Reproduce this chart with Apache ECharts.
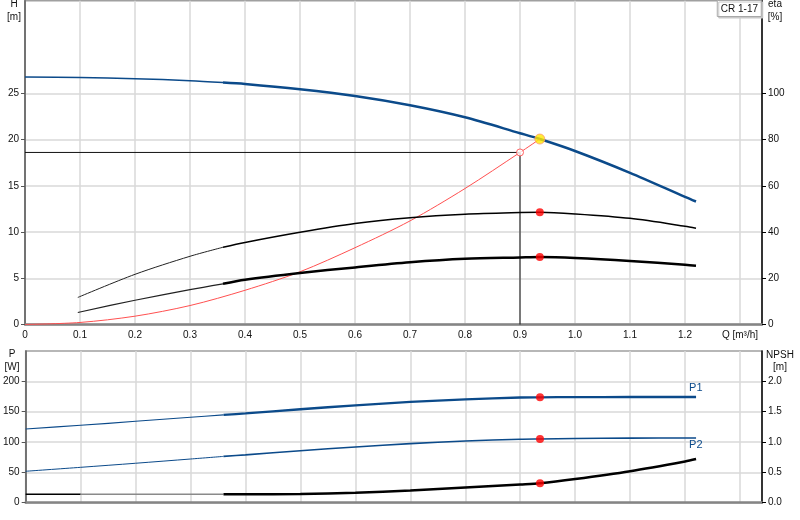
<!DOCTYPE html>
<html>
<head>
<meta charset="utf-8">
<script src="https://cdn.jsdelivr.net/npm/echarts@6/dist/echarts.min.js"></script>
<style>
  html, body { margin: 0; padding: 0; background: #fff; }
  #chart { width: 800px; height: 520px; }
</style>
</head>
<body>
<div id="chart"></div>
<script>
// pump curve, Q in m3/h
const qHead = [0, 0.1, 0.2, 0.3, 0.36, 0.4, 0.5, 0.6, 0.7, 0.8, 0.9, 0.936, 1.0, 1.1, 1.2, 1.22];
const head = [26.75, 26.69, 26.58, 26.36, 26.15, 26.0, 25.43, 24.7, 23.7, 22.4, 20.68, 20.05, 18.76, 16.4, 13.8, 13.3];

// system curve
const qSystem = [0, 0.1, 0.2, 0.3, 0.4, 0.5, 0.6, 0.7, 0.8, 0.9, 0.936];
const systemHead = [0, 0.22, 0.9, 2.05, 3.7, 5.7, 8.3, 11.2, 14.7, 18.6, 20.05];

// efficiencies [%]
const qEta = [0.096, 0.2, 0.3, 0.36, 0.4, 0.5, 0.6, 0.7, 0.8, 0.9, 0.936, 1.0, 1.1, 1.2, 1.22];
const etaPump = [11.7, 21.7, 29.5, 33.4, 35.5, 39.9, 43.7, 46.2, 47.7, 48.4, 48.5, 47.8, 45.9, 42.5, 41.6];
const etaTotal = [5.2, 10.5, 15.1, 17.6, 19.4, 22.3, 24.7, 26.9, 28.4, 29.0, 29.2, 28.8, 27.5, 25.8, 25.4];

// power [W]
const qPower = [0, 0.1, 0.2, 0.3, 0.36, 0.4, 0.5, 0.6, 0.7, 0.8, 0.9, 0.936, 1.0, 1.1, 1.22];
const powerP1 = [121.5, 127.6, 134.2, 140.8, 144.7, 147.2, 154, 160.5, 166, 170.4, 173.4, 173.7, 174, 174.2, 174.2];
const powerP2 = [51.8, 58.3, 65, 72, 76.3, 78.8, 85.7, 91.8, 97.3, 101.7, 104.5, 105, 105.8, 106.4, 106.6];

// NPSH [m]
const qNpsh = [0, 0.1, 0.36, 0.4, 0.5, 0.6, 0.7, 0.8, 0.9, 0.936, 1.0, 1.1, 1.2, 1.22];
const npsh = [0.14, 0.14, 0.14, 0.14, 0.145, 0.165, 0.2, 0.25, 0.3, 0.32, 0.39, 0.52, 0.68, 0.72];

// duty point and requested point
const dutyQ = 0.936;
const duty = { head: 20.05, etaPump: 48.5, etaTotal: 29.2, p1: 173.7, p2: 105, npsh: 0.32 };
const reqQ = 0.9;
const reqHead = 18.6;

const hLabels = [0, 5, 10, 15, 20, 25];
const etaLabels = [0, 20, 40, 60, 80, 100];
const pLabels = [0, 50, 100, 150, 200];
const npshLabels = [0, 0.5, 1, 1.5, 2];

const BLUE = '#0b4a8a';
const TXT = '#111';
const FS = 10;
const SPLIT = { lineStyle: { color: '#d8d8d8', width: 1.5 } };

const pairs = (xs, ys) => xs.map((x, i) => [x, ys[i]]);
const part = (xs, ys, lo, hi) => pairs(xs, ys).filter(p => p[0] >= lo - 1e-9 && p[0] <= hi + 1e-9);

function curve(data, color, width, xi, yi, extra) {
    return Object.assign({
        type: 'line', data: data, xAxisIndex: xi, yAxisIndex: yi,
        smooth: 0.3, symbol: 'none', silent: true, z: 3,
        lineStyle: { color: color, width: width }
    }, extra || {});
}
function dot(q, v, xi, yi, style, size) {
    return {
        type: 'scatter', data: [[q, v]], xAxisIndex: xi, yAxisIndex: yi,
        symbolSize: size, itemStyle: style, silent: true, z: 10
    };
}
// curve name written at the end of the line
const endName = (text, dy) => ({
    endLabel: { show: true, formatter: text, color: BLUE, fontSize: 11, distance: 0, offset: [-7, dy] }
});

const xLabel = v => {
    const r = Math.round(v * 10) / 10;
    if (Math.abs(v - r) > 1e-6) return '';
    if (Math.abs(r - 1.3) < 1e-6) return 'Q [m³/h]';
    return r === 0 ? '0' : r.toFixed(1);
};

function xAxis(gi, labels) {
    return {
        type: 'value', gridIndex: gi, min: 0, max: 1.34, interval: 0.1,
        axisLine: { lineStyle: { color: '#858585', width: 2.5 } },
        axisTick: { show: false },
        axisLabel: { show: labels, interval: 0, showMaxLabel: false, formatter: xLabel, margin: 6, color: TXT, fontSize: FS },
        splitLine: SPLIT
    };
}
function yAxis(gi, pos, max, interval, labels, fmt, lineColor, split) {
    return {
        type: 'value', gridIndex: gi, position: pos, min: 0, max: max, interval: interval,
        axisLine: { show: true, lineStyle: { color: lineColor, width: 1.5 } },
        axisTick: { show: true, length: 4, customValues: labels, lineStyle: { color: lineColor } },
        axisLabel: { customValues: labels, formatter: fmt, margin: 6, color: TXT, fontSize: FS },
        splitLine: split ? SPLIT : { show: false }
    };
}

const nameText = (x, y, t) => ({
    type: 'text', x: x, y: y,
    style: { text: t, fill: TXT, fontSize: FS, align: 'center', verticalAlign: 'middle', fontFamily: 'Liberation Sans, Arial, sans-serif' }
});

const chart = echarts.init(document.getElementById('chart'));
chart.setOption({
    animation: false,
    textStyle: { fontFamily: 'Liberation Sans, Arial, sans-serif' },
    title: {
        text: 'CR 1-17', right: 38, top: 0,
        padding: [4, 4, 3, 4],
        backgroundColor: '#fff', borderColor: '#a8a8a8', borderWidth: 1,
        shadowColor: '#c8c8c8', shadowOffsetX: 1.5, shadowOffsetY: 1.5,
        textStyle: { fontSize: 10, fontWeight: 'normal', color: TXT }
    },
    grid: [
        { left: 25, right: 38, top: 0.75, height: 323.75, show: true, borderColor: '#a0a0a0', borderWidth: 1.5 },
        { left: 25, right: 38, top: 351, height: 151.7, show: true, borderColor: '#a0a0a0', borderWidth: 1.5 }
    ],
    xAxis: [xAxis(0, true), xAxis(1, false)],
    yAxis: [
        yAxis(0, 'left', 35, 5, hLabels, v => String(v), '#555', true),
        yAxis(0, 'right', 140, 20, etaLabels, v => String(v), '#000', false),
        yAxis(1, 'left', 250, 50, pLabels, v => String(v), '#555', true),
        yAxis(1, 'right', 2.5, 0.5, npshLabels, v => v.toFixed(1), '#000', false)
    ],
    graphic: [
        nameText(14, 4.5, 'H'), nameText(14, 17, '[m]'),
        nameText(775, 4.5, 'eta'), nameText(775, 17, '[%]'),
        nameText(12, 354, 'P'), nameText(12, 367, '[W]'),
        nameText(780, 355, 'NPSH'), nameText(780, 367.5, '[m]')
    ],
    series: [
        // H curve
        curve(part(qHead, head, 0, 0.36), BLUE, 1.5, 0, 0),
        curve(part(qHead, head, 0.36, 2), BLUE, 2.5, 0, 0),
        // system curve
        curve(pairs(qSystem, systemHead), '#ff5050', 1, 0, 0),
        // requested point lines
        {
            type: 'line', data: [[0, reqHead], [reqQ, reqHead], [reqQ, 0]], xAxisIndex: 0, yAxisIndex: 0,
            symbol: 'none', silent: true, z: 2, lineStyle: { color: '#111', width: 1 }
        },
        // efficiencies
        curve(part(qEta, etaPump, 0, 0.36), '#222', 1, 0, 1),
        curve(part(qEta, etaPump, 0.36, 2), '#000', 1.5, 0, 1),
        curve(part(qEta, etaTotal, 0, 0.36), '#222', 1.2, 0, 1),
        curve(part(qEta, etaTotal, 0.36, 2), '#000', 2.5, 0, 1),
        // power
        curve(part(qPower, powerP1, 0, 0.36), BLUE, 1.2, 1, 2),
        curve(part(qPower, powerP1, 0.36, 2), BLUE, 2.3, 1, 2, endName('P1', -9)),
        curve(part(qPower, powerP2, 0, 0.36), BLUE, 1, 1, 2),
        curve(part(qPower, powerP2, 0.36, 2), BLUE, 1.6, 1, 2, endName('P2', 7)),
        // NPSH
        curve(part(qNpsh, npsh, 0, 0.1), '#000', 1.5, 1, 3),
        curve(part(qNpsh, npsh, 0.1, 0.36), '#8a8a8a', 1.5, 1, 3),
        curve(part(qNpsh, npsh, 0.36, 2), '#000', 2.5, 1, 3),
        // markers
        dot(reqQ, reqHead, 0, 0, { color: '#fff', borderColor: '#ff4040', borderWidth: 1 }, 7),
        dot(dutyQ, duty.head, 0, 0, { color: '#ffe800', borderColor: '#ff9a70', borderWidth: 1 }, 10),
        dot(dutyQ, duty.etaPump, 0, 1, { color: '#ff0000' }, 8),
        dot(dutyQ, duty.etaTotal, 0, 1, { color: '#ff0000' }, 8),
        dot(dutyQ, duty.p1, 1, 2, { color: '#ff0000' }, 8),
        dot(dutyQ, duty.p2, 1, 2, { color: '#ff0000' }, 8),
        dot(dutyQ, duty.npsh, 1, 3, { color: '#ff0000' }, 8)
    ]
});
</script>
</body>
</html>
